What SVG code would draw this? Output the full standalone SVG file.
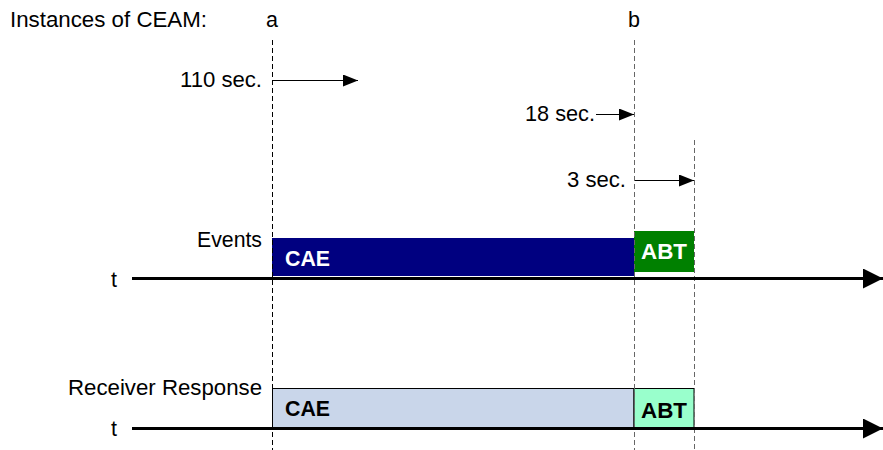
<svg xmlns="http://www.w3.org/2000/svg" width="883" height="450" viewBox="0 0 883 450">
<style>
text{font-family:"Liberation Sans",Arial,sans-serif;font-size:21.5px;fill:#000}
.b{font-weight:bold}
.w{fill:#fff}
.dash{stroke:#000;stroke-width:1;stroke-dasharray:5,3;fill:none}
.dashg{stroke:#666;stroke-width:1;stroke-dasharray:5,3;fill:none}
.thin{stroke:#000;stroke-width:1;fill:none}
.axis{stroke:#000;stroke-width:3;fill:none}
</style>
<defs>
<marker id="ah" viewBox="0 0 15 12" refX="15" refY="6" markerWidth="15" markerHeight="12" markerUnits="userSpaceOnUse" orient="auto"><path d="M0,0L15,6L0,12z" fill="#000"/></marker>
<marker id="big" viewBox="0 0 20 20" refX="20" refY="10" markerWidth="20" markerHeight="20" markerUnits="userSpaceOnUse" orient="auto"><path d="M0,0L20,10L0,20z" fill="#000"/></marker>
</defs>
<g id="labels">
<text x="10" y="27" textLength="197" lengthAdjust="spacingAndGlyphs">Instances of CEAM:</text>
<text x="272" y="27" text-anchor="middle">a</text>
<text x="634" y="27" text-anchor="middle">b</text>
<text x="180" y="87" textLength="82" lengthAdjust="spacingAndGlyphs">110 sec.</text>
<text x="525" y="121" textLength="70" lengthAdjust="spacingAndGlyphs">18 sec.</text>
<text x="567" y="187" textLength="59" lengthAdjust="spacingAndGlyphs">3 sec.</text>
<text x="197" y="247" textLength="65" lengthAdjust="spacingAndGlyphs">Events</text>
<text x="111" y="287">t</text>
<text x="68" y="395" textLength="194" lengthAdjust="spacingAndGlyphs">Receiver Response</text>
<text x="111" y="436">t</text>
</g>
<g id="events-cae">
<rect x="272" y="238" width="362" height="38" fill="#000080"/>
<text class="b w" x="285" y="266" textLength="45" lengthAdjust="spacingAndGlyphs">CAE</text>
</g>
<g id="events-abt">
<rect x="634" y="231" width="60" height="41" fill="#008000"/>
<text class="b w" x="641" y="259" textLength="46" lengthAdjust="spacingAndGlyphs">ABT</text>
</g>
<g id="response-cae">
<rect x="272.5" y="388.5" width="361.5" height="39.5" fill="#C9D6EA" stroke="#000" stroke-width="1"/>
<text class="b" x="285" y="416" textLength="45" lengthAdjust="spacingAndGlyphs">CAE</text>
</g>
<g id="response-abt">
<rect x="634" y="388.5" width="60" height="39.5" fill="#99FFCC" stroke="#000" stroke-width="1"/>
<text class="b" x="641" y="418" textLength="46" lengthAdjust="spacingAndGlyphs">ABT</text>
</g>
<g id="connectors">
<line class="dash" x1="272.5" y1="40" x2="272.5" y2="450"/>
<line class="dashg" x1="634.5" y1="40" x2="634.5" y2="450"/>
<line class="dashg" x1="694.5" y1="140" x2="694.5" y2="450"/>
<line class="thin" x1="273" y1="80.5" x2="358" y2="80.5" marker-end="url(#ah)"/>
<line class="thin" x1="596" y1="114.5" x2="634" y2="114.5" marker-end="url(#ah)"/>
<line class="thin" x1="635" y1="180.5" x2="694" y2="180.5" marker-end="url(#ah)"/>
<line class="axis" x1="132" y1="278.5" x2="883" y2="278.5" marker-end="url(#big)"/>
<line class="axis" x1="132" y1="428.5" x2="883" y2="428.5" marker-end="url(#big)"/>
</g>
</svg>
